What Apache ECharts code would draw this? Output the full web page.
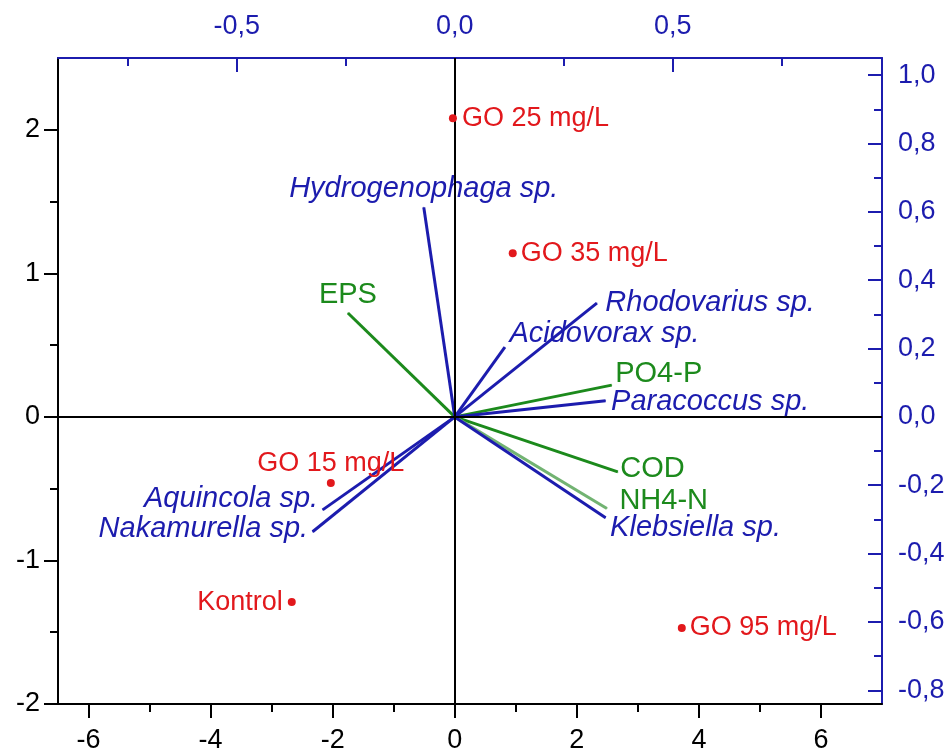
<!DOCTYPE html>
<html>
<head>
<meta charset="utf-8">
<title>Biplot</title>
<script src="https://cdn.jsdelivr.net/npm/echarts@6.0.0/dist/echarts.min.js"></script>
<style>
  html, body { margin: 0; padding: 0; background: #fff; }
  #chart { width: 948px; height: 754px; }
</style>
</head>
<body>
<div id="chart"></div>
<script>
// sample scores (bottom / left axes)
var siteNames = ['GO 25 mg/L', 'GO 35 mg/L', 'GO 15 mg/L', 'Kontrol', 'GO 95 mg/L'];
var siteX = [-0.03, 0.95, -2.03, -2.67, 3.72];
var siteY = [2.08, 1.14, -0.46, -1.29, -1.47];

// species loadings (top / right axes)
var speciesNames = ['Hydrogenophaga sp.', 'Rhodovarius sp.', 'Acidovorax sp.', 'Paracoccus sp.',
                    'Klebsiella sp.', 'Aquincola sp.', 'Nakamurella sp.'];
var speciesX = [-0.071, 0.326, 0.115, 0.346, 0.346, -0.303, -0.326];
var speciesY = [0.613, 0.333, 0.204, 0.047, -0.295, -0.272, -0.336];

// environmental variables (top / right axes)
var envNames = ['EPS', 'PO4-P', 'COD', 'NH4-N'];
var envX = [-0.245, 0.360, 0.374, 0.349];
var envY = [0.304, 0.093, -0.161, -0.268];

// tick values
var bottomTicks = [-6, -4, -2, 0, 2, 4, 6];
var bottomMinor = [-5, -3, -1, 1, 3, 5];
var leftTicks = [-2, -1, 0, 1, 2];
var leftMinor = [-1.5, -0.5, 0.5, 1.5];
var topTicks = [-0.5, 0, 0.5];
var topMinor = [-0.75, -0.25, 0.25, 0.75];
var rightTicks = [-0.8, -0.6, -0.4, -0.2, 0, 0.2, 0.4, 0.6, 0.8, 1.0];
var rightMinor = [-0.7, -0.5, -0.3, -0.1, 0.1, 0.3, 0.5, 0.7, 0.9];

var BLUE = '#1c1cae';
var RED = '#e2181c';
var GREEN = '#1c8a1c';
var FONT = '"Liberation Sans", Arial, sans-serif';

// label placement around the end of each mark
var siteLabel = [
    {position: 'right', distance: 5},
    {position: 'right', distance: 4},
    {position: 'top', distance: 2},
    {position: 'left', distance: 5},
    {position: 'right', distance: 4}
];
var speciesLabel = [
    {position: 'top', distance: 3},
    {position: 'right', distance: 8},
    {position: 'right', distance: 4, offset: [0, -13]},
    {position: 'right', distance: 5, offset: [0, 1]},
    {position: 'right', distance: 4, offset: [0, 10]},
    {position: 'left', distance: 4, offset: [0, -11]},
    {position: 'left', distance: 4, offset: [0, -3]}
];
var envLabel = [
    {position: 'top', distance: 3},
    {position: 'right', distance: 3, offset: [0, -11]},
    {position: 'right', distance: 2, offset: [0, -3]},
    {position: 'right', distance: 12, offset: [0, -7]}
];
var envLineColor = [GREEN, GREEN, GREEN, '#72b372'];

function comma(v) {
    return v.toFixed(1).replace('.', ',');
}

function mainAxis(pos, min, max, ticks, color, inside, margin, fmt) {
    return {
        type: 'value', position: pos, min: min, max: max,
        axisLine: {show: true, onZero: false, lineStyle: {color: color, width: 2}},
        axisTick: {show: true, customValues: ticks, inside: inside, length: 14,
                   lineStyle: {color: color, width: 2}},
        axisLabel: {show: true, customValues: ticks, margin: margin, color: color,
                    fontSize: 27, fontFamily: FONT, formatter: fmt},
        splitLine: {show: false}
    };
}

function minorAxis(pos, min, max, ticks, color, inside) {
    return {
        type: 'value', position: pos, min: min, max: max,
        axisLine: {show: false, onZero: false},
        axisTick: {show: true, customValues: ticks, inside: inside, length: 8,
                   lineStyle: {color: color, width: 2}},
        axisLabel: {show: false},
        splitLine: {show: false}
    };
}

var series = [];

series.push({
    type: 'scatter',
    xAxisIndex: 0, yAxisIndex: 0,
    symbolSize: 8,
    itemStyle: {color: RED, opacity: 1},
    z: 5,
    data: siteNames.map(function (n, i) {
        return {
            name: n, value: [siteX[i], siteY[i]],
            label: Object.assign({show: true, formatter: n, color: RED, fontSize: 27, fontFamily: FONT}, siteLabel[i])
        };
    }),
    markLine: {
        silent: true, symbol: 'none',
        label: {show: false},
        lineStyle: {color: '#000', width: 2, type: 'solid', opacity: 1},
        data: [{xAxis: 0}, {yAxis: 0}]
    }
});

function vector(name, x, y, color, lineColor, lab, italic) {
    return {
        type: 'line',
        xAxisIndex: 2, yAxisIndex: 2,
        symbol: 'circle', symbolSize: 1, showSymbol: true,
        silent: true, z: 3,
        lineStyle: {color: lineColor, width: 3},
        itemStyle: {color: lineColor},
        data: [
            [0, 0],
            {value: [x, y], label: Object.assign({
                show: true, formatter: name, color: color, fontSize: 29,
                fontFamily: FONT, fontStyle: italic ? 'italic' : 'normal'
            }, lab)}
        ]
    };
}

envNames.forEach(function (n, i) {
    series.push(vector(n, envX[i], envY[i], GREEN, envLineColor[i], envLabel[i], false));
});
speciesNames.forEach(function (n, i) {
    series.push(vector(n, speciesX[i], speciesY[i], BLUE, BLUE, speciesLabel[i], true));
});

var chart = echarts.init(document.getElementById('chart'));
chart.setOption({
    animation: false,
    backgroundColor: '#fff',
    grid: {left: 58, right: 66, top: 58, bottom: 50, containLabel: false},
    xAxis: [
        mainAxis('bottom', -6.5, 7, bottomTicks, '#000', false, 23, function (v) { return String(v); }),
        minorAxis('bottom', -6.5, 7, bottomMinor, '#000', false),
        mainAxis('top', -0.91, 0.98, topTicks, BLUE, true, 18, comma),
        minorAxis('top', -0.91, 0.98, topMinor, BLUE, true)
    ],
    yAxis: [
        mainAxis('left', -2, 2.5, leftTicks, '#000', false, 18, function (v) { return String(v); }),
        minorAxis('left', -2, 2.5, leftMinor, '#000', false),
        mainAxis('right', -0.84, 1.05, rightTicks, BLUE, true, 16, comma),
        minorAxis('right', -0.84, 1.05, rightMinor, BLUE, true)
    ],
    series: series
});
</script>
</body>
</html>
